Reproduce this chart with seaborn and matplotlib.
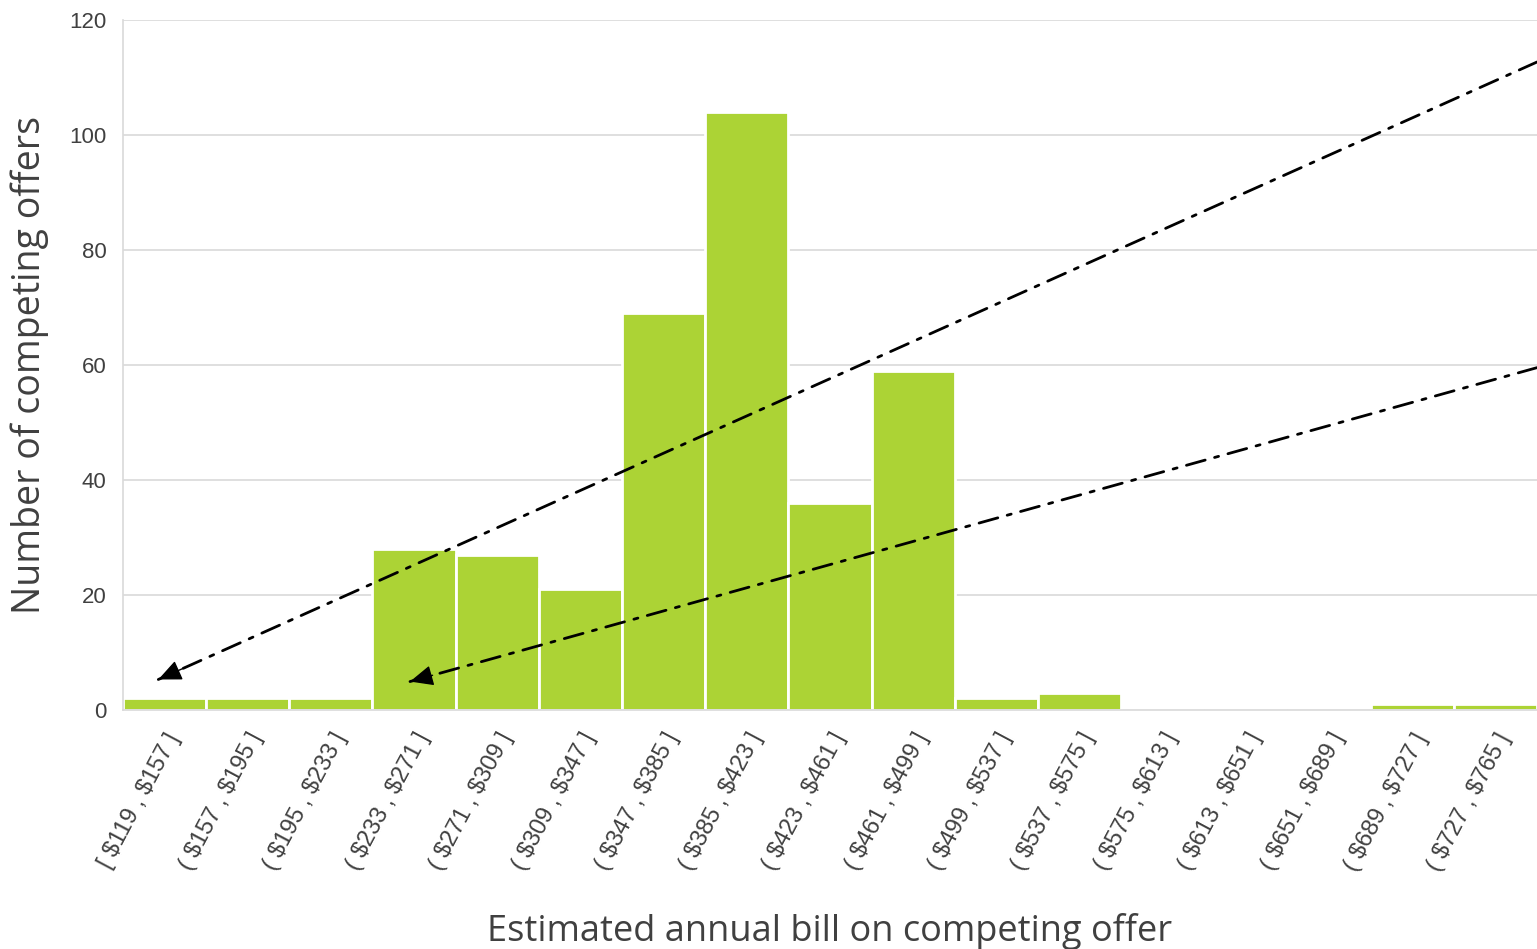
import matplotlib
matplotlib.use("Agg")
import matplotlib.pyplot as plt
import seaborn as sns
import pandas as pd

# bin edges of the annual bill histogram (first bin closed on the left)
bin_edges = [119, 157, 195, 233, 271, 309, 347, 385, 423, 461, 499,
             537, 575, 613, 651, 689, 727, 765]
counts = [2, 2, 2, 28, 27, 21, 69, 104, 36, 59, 2, 3, 0, 0, 0, 1, 1]
y_ticks = [0, 20, 40, 60, 80, 100, 120]

labels = []
for i in range(len(counts)):
    left = "[" if i == 0 else "("
    labels.append(f"{left} \\${bin_edges[i]} , \\${bin_edges[i + 1]} ]")

df = pd.DataFrame({"bin": labels, "count": counts})

sns.set_theme(style="white")
plt.rcParams["font.family"] = ["Liberation Sans", "DejaVu Sans"]

fig = plt.figure(figsize=(15.37, 9.49), dpi=100)
ax = fig.add_axes([0.080, 0.252, 0.920, 0.727])

sns.barplot(data=df, x="bin", y="count", color="#acd335", saturation=1,
            width=1.0, edgecolor="white", linewidth=2, ax=ax, zorder=2)

ax.set_xlim(-0.5, len(counts) - 0.5)
ax.set_ylim(0, 120)
ax.set_yticks(y_ticks)
ax.yaxis.grid(True, color="#d9d9d9", linewidth=1.2, zorder=0)
ax.set_axisbelow(True)

for side in ["top", "right"]:
    ax.spines[side].set_visible(False)
ax.spines["left"].set_color("#d9d9d9")
ax.spines["bottom"].set_color("#d9d9d9")
ax.spines["left"].set_linewidth(1.2)
ax.spines["bottom"].set_linewidth(1.2)

ax.tick_params(axis="y", labelsize=16, labelcolor="#404040", length=0, pad=12)
ax.tick_params(axis="x", labelsize=17, labelcolor="#404040", length=0, pad=14)
ax.set_xticks(range(len(labels)))
ax.set_xticklabels(labels, rotation=62, ha="right", rotation_mode="anchor")

ax.set_xlabel("Estimated annual bill on competing offer", fontsize=26,
              family="Open Sans", color="#404040")
ax.set_ylabel("Number of competing offers", fontsize=27,
              family="Open Sans", color="#404040")
ax.xaxis.set_label_coords(0.50, -0.295)
ax.yaxis.set_label_coords(-0.052, 0.50)

# dash-dot callout arrows coming in from the right edge:
# dashed shaft first, then a short solid segment that carries the head
arrows = [((1.0, 0.939), (0.025, 0.044)),
          ((1.0, 0.496), (0.203, 0.041))]
for start, tip in arrows:
    ax.annotate("", xy=tip, xycoords="axes fraction",
                xytext=start, textcoords="axes fraction",
                arrowprops=dict(arrowstyle="-", color="black",
                                linestyle=(0, (7, 3.5, 1.5, 3.5)), linewidth=2,
                                shrinkA=0, shrinkB=0), zorder=5)
    back = (tip[0] + 0.02 * (start[0] - tip[0]), tip[1] + 0.02 * (start[1] - tip[1]))
    ax.annotate("", xy=tip, xycoords="axes fraction",
                xytext=back, textcoords="axes fraction",
                arrowprops=dict(arrowstyle="-|>,head_length=0.9,head_width=0.4",
                                color="black", linewidth=1, mutation_scale=16,
                                shrinkA=0, shrinkB=0), zorder=6)

fig.savefig("out.png", dpi=100)
